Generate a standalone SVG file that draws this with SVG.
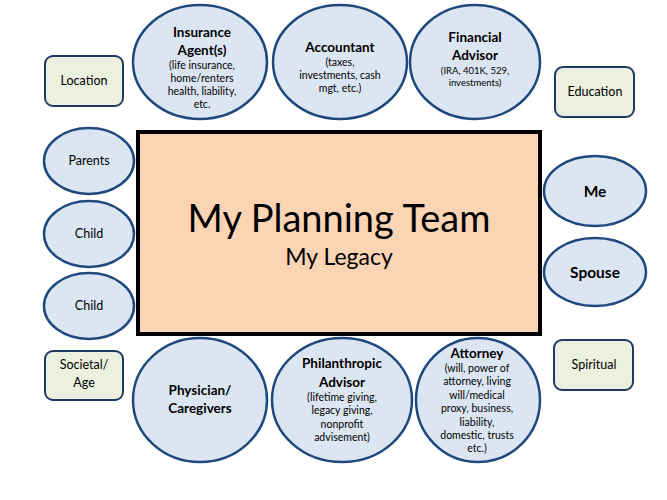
<svg xmlns="http://www.w3.org/2000/svg" width="667" height="500" viewBox="0 0 667 500">
<style>
.e{fill:#dce6f2;stroke:#1f497d;stroke-width:2.5}
.b{fill:#ebf1de;stroke:#1f3864;stroke-width:2}
text{font-family:Lato,"Noto Sans","Liberation Sans",sans-serif;fill:#000;text-anchor:middle}
.h{font-weight:bold;font-size:13.5px}
.s{font-size:10.5px}
.l{font-size:12.5px}
</style>
<rect width="667" height="500" fill="#fff"/>
<g id="center">
<rect x="138" y="132" width="402" height="202" fill="#fbd4b4" stroke="#000" stroke-width="4"/>
<text x="339" y="232" font-size="38">My Planning Team</text>
<text x="339" y="265" font-size="23">My Legacy</text>
</g>
<g id="insurance">
<ellipse class="e" cx="200" cy="62" rx="67" ry="57"/>
<text class="h" x="202" y="37">Insurance</text>
<text class="h" x="202" y="55">Agent(s)</text>
<text class="s" x="202" y="69">(life insurance,</text>
<text class="s" x="202" y="82">home/renters</text>
<text class="s" x="202" y="95">health, liability,</text>
<text class="s" x="202" y="108">etc.</text>
</g>
<g id="accountant">
<ellipse class="e" cx="340" cy="62" rx="67" ry="57"/>
<text class="h" x="340" y="52">Accountant</text>
<text class="s" x="340" y="66">(taxes,</text>
<text class="s" x="340" y="79">investments, cash</text>
<text class="s" x="340" y="92">mgt, etc.)</text>
</g>
<g id="financial">
<ellipse class="e" cx="475" cy="62" rx="65" ry="57"/>
<text class="h" x="475" y="42">Financial</text>
<text class="h" x="475" y="60">Advisor</text>
<text x="475" y="74" font-size="9.5">(IRA, 401K, 529,</text>
<text x="475" y="86" font-size="9.5">investments)</text>
</g>
<g id="physician">
<ellipse class="e" cx="200" cy="400" rx="67" ry="62"/>
<text class="h" x="200" y="395">Physician/</text>
<text class="h" x="200" y="413">Caregivers</text>
</g>
<g id="philanthropic">
<ellipse class="e" cx="342" cy="400" rx="70" ry="62"/>
<text class="h" x="342" y="368">Philanthropic</text>
<text class="h" x="342" y="387">Advisor</text>
<text class="s" x="342" y="401">(lifetime giving,</text>
<text class="s" x="342" y="414">legacy giving,</text>
<text class="s" x="342" y="428">nonprofit</text>
<text class="s" x="342" y="441">advisement)</text>
</g>
<g id="attorney">
<ellipse class="e" cx="478" cy="400" rx="62" ry="62"/>
<text class="h" x="477" y="358">Attorney</text>
<text class="s" x="477" y="372">(will, power of</text>
<text class="s" x="477" y="385">attorney, living</text>
<text class="s" x="477" y="399">will/medical</text>
<text class="s" x="477" y="412">proxy, business,</text>
<text class="s" x="477" y="426">liability,</text>
<text class="s" x="477" y="439">domestic, trusts</text>
<text class="s" x="477" y="452">etc.)</text>
</g>
<g id="location">
<rect class="b" x="45" y="56" width="78" height="50" rx="8"/>
<text class="l" x="84" y="85">Location</text>
</g>
<g id="parents">
<ellipse class="e" cx="89" cy="161" rx="45" ry="33"/>
<text class="l" x="89" y="165">Parents</text>
</g>
<g id="child1">
<ellipse class="e" cx="89" cy="234" rx="45" ry="33"/>
<text class="l" x="89" y="238">Child</text>
</g>
<g id="child2">
<ellipse class="e" cx="89" cy="306" rx="45" ry="33"/>
<text class="l" x="89" y="310">Child</text>
</g>
<g id="societal">
<rect class="b" x="45" y="351" width="78" height="49" rx="8"/>
<text class="l" x="84" y="369">Societal/</text>
<text class="l" x="84" y="387">Age</text>
</g>
<g id="education">
<rect class="b" x="555" y="67" width="79" height="50" rx="8"/>
<text class="l" x="595" y="96">Education</text>
</g>
<g id="me">
<ellipse class="e" cx="595" cy="191" rx="51" ry="35"/>
<text x="595" y="197" font-size="15.5" font-weight="bold">Me</text>
</g>
<g id="spouse">
<ellipse class="e" cx="595" cy="272" rx="51" ry="34"/>
<text x="595" y="278" font-size="15.5" font-weight="bold">Spouse</text>
</g>
<g id="spiritual">
<rect class="b" x="554" y="340" width="79" height="50" rx="8"/>
<text class="l" x="594" y="369">Spiritual</text>
</g>
<g id="connectors"/>
</svg>
